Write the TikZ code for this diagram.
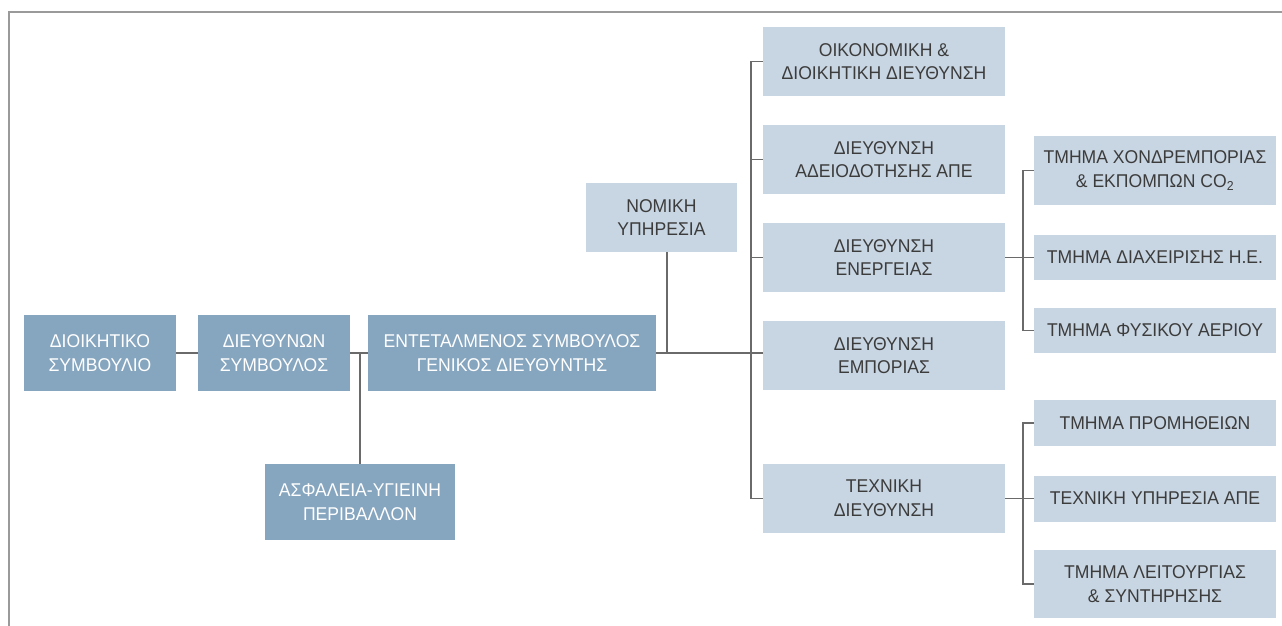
\documentclass[tikz,border=0pt]{standalone}
\usepackage{fontspec}
\setmainfont[FakeStretch=0.95]{Liberation Sans}
\usetikzlibrary{calc}
\definecolor{darkbox}{HTML}{86A5BF}
\definecolor{lightbox}{HTML}{C8D5E2}
\definecolor{linegray}{HTML}{6A6A6A}
\definecolor{framegray}{HTML}{9A9A9A}
\definecolor{textgray}{HTML}{3C3C3C}
\tikzset{
	unit/.style={inner sep=0pt, align=center, font=\fontsize{18.5}{23.7}\selectfont},
	topunit/.style={unit, fill=darkbox, text=white, minimum height=76},
	dirunit/.style={unit, fill=lightbox, text=textgray, minimum width=242, minimum height=69},
	deptunit/.style={unit, fill=lightbox, text=textgray, minimum width=242},
	link/.style={draw=linegray, line width=1.1pt}
}
\begin{document}
\begin{tikzpicture}[x=1pt, y=-1pt, line cap=butt, line join=miter]
	\useasboundingbox (0,0) rectangle (1282,626);
	% frame
	\draw[framegray, line width=1.6pt] (9,626) -- (9,12) -- (1282,12);

	% (1) Dioikisi
	\node[topunit, minimum width=152] (board) at (100,353) {ΔΙΟΙΚΗΤΙΚΟ\\ΣΥΜΒΟΥΛΙΟ};
	\node[topunit, minimum width=152] (ceo) at (274,353) {ΔΙΕΥΘΥΝΩΝ\\ΣΥΜΒΟΥΛΟΣ};
	\node[topunit, minimum width=288] (deputy) at (512,353) {ΕΝΤΕΤΑΛΜΕΝΟΣ ΣΥΜΒΟΥΛΟΣ\\ΓΕΝΙΚΟΣ ΔΙΕΥΘΥΝΤΗΣ};
	\node[topunit, minimum width=190] (safety) at (360,502) {ΑΣΦΑΛΕΙΑ-ΥΓΙΕΙΝΗ\\ΠΕΡΙΒΑΛΛΟΝ};
	\node[dirunit, minimum width=151] (legal) at (661.5,217.5) {ΝΟΜΙΚΗ\\ΥΠΗΡΕΣΙΑ};

	% (2) Dieythynseis
	\node[dirunit] (finance) at (884,61.5) {ΟΙΚΟΝΟΜΙΚΗ \&\\ΔΙΟΙΚΗΤΙΚΗ ΔΙΕΥΘΥΝΣΗ};
	\node[dirunit] (licence) at (884,159.5) {ΔΙΕΥΘΥΝΣΗ\\ΑΔΕΙΟΔΟΤΗΣΗΣ ΑΠΕ};
	\node[dirunit] (energy) at (884,257.5) {ΔΙΕΥΘΥΝΣΗ\\ΕΝΕΡΓΕΙΑΣ};
	\node[dirunit] (trade) at (884,355.5) {ΔΙΕΥΘΥΝΣΗ\\ΕΜΠΟΡΙΑΣ};
	\node[dirunit] (tech) at (884,498.5) {ΤΕΧΝΙΚΗ\\ΔΙΕΥΘΥΝΣΗ};

	% (3) Tmimata
	\node[deptunit, minimum height=69] (wholesale) at (1155,170.5) {ΤΜΗΜΑ ΧΟΝΔΡΕΜΠΟΡΙΑΣ\\\& ΕΚΠΟΜΠΩΝ CO\textsubscript{2}};
	\node[deptunit, minimum height=45] (grid) at (1155,257.5) {ΤΜΗΜΑ ΔΙΑΧΕΙΡΙΣΗΣ Η.Ε.};
	\node[deptunit, minimum height=45] (gas) at (1155,330.5) {ΤΜΗΜΑ ΦΥΣΙΚΟΥ ΑΕΡΙΟΥ};
	\node[deptunit, minimum height=46] (supply) at (1155,423) {ΤΜΗΜΑ ΠΡΟΜΗΘΕΙΩΝ};
	\node[deptunit, minimum height=46] (service) at (1155,498.5) {ΤΕΧΝΙΚΗ ΥΠΗΡΕΣΙΑ ΑΠΕ};
	\node[deptunit, minimum height=68] (ops) at (1155,584) {ΤΜΗΜΑ ΛΕΙΤΟΥΡΓΙΑΣ\\\& ΣΥΝΤΗΡΗΣΗΣ};

	\coordinate (legal_in) at (667,353);
	\coordinate (bus) at (751,353);
	\coordinate (energy_bus) at (1023,257.5);
	\coordinate (tech_bus) at (1023,498.5);

	% connectors
	\draw[link] (board) -- (ceo);
	\draw[link] (ceo) -- (deputy);
	\draw[link] (safety.north) -- (safety.north |- ceo.east);
	\draw[link] (deputy.east) -- (deputy.east -| trade.west);
	\draw[link] (legal.south -| legal_in) -- (legal_in);
	\draw[link] (finance.west) -| (bus);
	\draw[link] (tech.west) -| (bus);
	\draw[link] (licence.west) -- (licence.west -| bus);
	\draw[link] (energy.west) -- (energy.west -| bus);

	\draw[link] (energy.east) -- (grid.west);
	\draw[link] (wholesale.west) -| (energy_bus);
	\draw[link] (gas.west) -| (energy_bus);
	\draw[link] (tech.east) -- (service.west);
	\draw[link] (supply.west) -| (tech_bus);
	\draw[link] (ops.west) -| (tech_bus);
\end{tikzpicture}
\end{document}
